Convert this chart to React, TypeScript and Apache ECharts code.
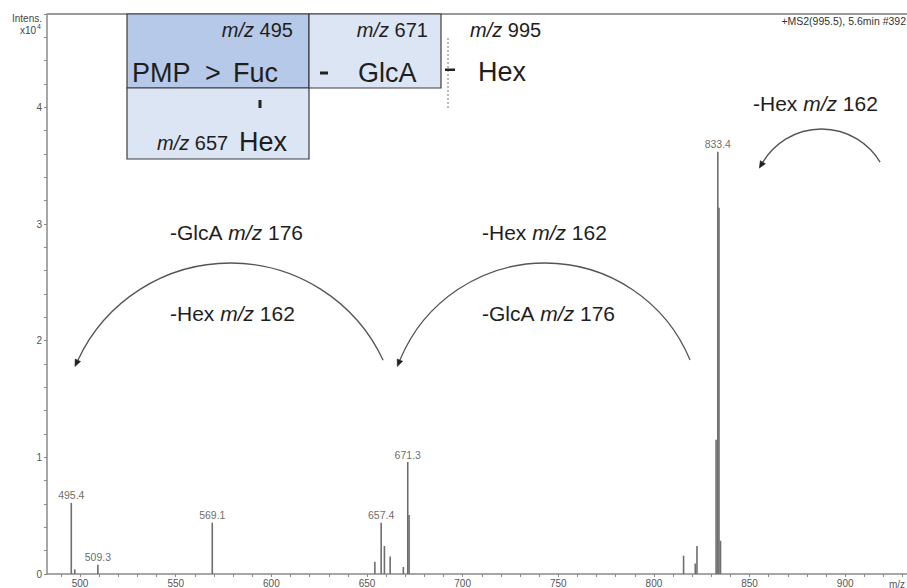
import React, { useEffect, useRef } from "react";
import * as echarts from "echarts";

// ---- data (m/z in Da, intensity in 10^4 counts) ----
const peakMz = [495.4, 497.2, 509.3, 569.1, 654.1, 657.4, 659.1, 662.1, 669.0, 671.3, 672.0, 815.5, 821.6, 822.5, 832.5, 833.4, 834.0, 834.8];
const peakIntensity = [0.61, 0.04, 0.08, 0.44, 0.105, 0.44, 0.24, 0.15, 0.06, 0.96, 0.505, 0.157, 0.09, 0.24, 1.15, 3.62, 3.14, 0.285];
const labeledMz = [495.4, 509.3, 569.1, 657.4, 671.3, 833.4];

const xTickValues = [490, 500, 510, 520, 530, 540, 550, 560, 570, 580, 590, 600, 610, 620, 630, 640, 650, 660, 670, 680, 690, 700, 710, 720, 730, 740, 750, 760, 770, 780, 790, 800, 810, 820, 830, 840, 850, 860, 870, 880, 890, 900, 910, 920, 930];
const xLabelValues = [500, 550, 600, 650, 700, 750, 800, 850, 900];
const yTickValues = [0, 0.2, 0.4, 0.6, 0.8, 1, 1.2, 1.4, 1.6, 1.8, 2, 2.2, 2.4, 2.6, 2.8, 3, 3.2, 3.4, 3.6, 3.8, 4, 4.2, 4.4, 4.6, 4.8];
const yLabelValues = [0, 1, 2, 3, 4];

const FF = '"Liberation Sans", Arial, Helvetica, sans-serif';
const INK = "#1e1e1e";
const AXIS = "#8a8a8a";

function txt(x: number, y: number, text: string, size: number, align: string = "left", extra: any = {}) {
  return {
    type: "text",
    x,
    y,
    z: 20,
    style: {
      text,
      fill: INK,
      fontSize: size,
      fontFamily: FF,
      textAlign: align,
      textVerticalAlign: "middle",
      align,
      verticalAlign: "middle",
      rich: {
        i: { fontStyle: "italic", fontSize: size, fontFamily: FF, fill: INK },
      },
      ...extra,
    },
  };
}

function arcArrow(cx: number, cy: number, r: number, halfDeg: number) {
  const a1 = ((180 + halfDeg) * Math.PI) / 180;
  const a2 = ((360 - halfDeg) * Math.PI) / 180;
  const px = cx + r * Math.cos(a1);
  const py = cy + r * Math.sin(a1);
  const dx = Math.sin(a1);
  const dy = -Math.cos(a1);
  const L = 7;
  const W = 3;
  const tip = [px + dx * L, py + dy * L];
  const b1 = [px - dy * W, py + dx * W];
  const b2 = [px + dy * W, py - dx * W];
  return [
    {
      type: "arc",
      z: 15,
      shape: { cx, cy, r, startAngle: a1, endAngle: a2, clockwise: true },
      style: { stroke: "#555", lineWidth: 1.3, fill: "none" },
    },
    {
      type: "polygon",
      z: 15,
      shape: { points: [tip, b1, b2] },
      style: { fill: "#222", stroke: "#222", lineWidth: 0.5 },
    },
  ];
}

export default function App() {
  const ref = useRef<HTMLDivElement>(null);

  useEffect(() => {
    if (!ref.current) return;
    const chart = echarts.init(ref.current, undefined, { renderer: "svg" });

    const peaks = peakMz.map((m, i) => [m, peakIntensity[i]]);
    const labeled = labeledMz.map((m) => [m, peakIntensity[peakMz.indexOf(m)]]);

    const elements: any[] = [
      // plot top frame
      { type: "line", z: 5, shape: { x1: 47, y1: 14, x2: 907, y2: 14 }, style: { stroke: "#9a9a9a", lineWidth: 2 } },
      // y axis title
      txt(42, 18, "Intens.", 10, "right", { fill: "#444" }),
      txt(36, 30, "x10", 10, "right", { fill: "#444" }),
      txt(37, 26, "4", 7, "left", { fill: "#444" }),
      // header
      txt(906, 21, "+MS2(995.5), 5.6min #392", 10.5, "right", { fill: "#333" }),
      // x axis name
      txt(889, 584, "m/z", 10, "left", { fill: "#555" }),
      // boxes
      { type: "rect", z: 10, shape: { x: 127, y: 14, width: 182, height: 74 }, style: { fill: "#b7c9e8", stroke: "#3c3c3c", lineWidth: 1.2 } },
      { type: "rect", z: 10, shape: { x: 309, y: 14, width: 132, height: 74 }, style: { fill: "#dce5f4", stroke: "#3c3c3c", lineWidth: 1.2 } },
      { type: "rect", z: 10, shape: { x: 127, y: 88, width: 182, height: 71 }, style: { fill: "#dce5f4", stroke: "#3c3c3c", lineWidth: 1.2 } },
      // box texts
      txt(293, 30, "{i|m/z} 495", 20, "right"),
      txt(428, 30, "{i|m/z} 671", 20, "right"),
      txt(470, 30, "{i|m/z} 995", 20, "left"),
      txt(132, 73, "PMP", 27),
      txt(205, 73, ">", 27),
      txt(233, 73, "Fuc", 27, "left", { letterSpacing: 4 }),
      txt(358, 73, "GlcA", 27),
      txt(478, 72, "Hex", 27),
      txt(157, 143, "{i|m/z} 657", 20),
      txt(239, 142, "Hex", 27),
      // linkage marks
      { type: "rect", z: 20, shape: { x: 320, y: 71.5, width: 8, height: 3 }, style: { fill: "#222" } },
      { type: "rect", z: 20, shape: { x: 445, y: 68.5, width: 10, height: 2.5 }, style: { fill: "#222" } },
      { type: "rect", z: 20, shape: { x: 258.5, y: 100, width: 3, height: 8 }, style: { fill: "#222" } },
      { type: "line", z: 19, shape: { x1: 448, y1: 38, x2: 448, y2: 110 }, style: { stroke: "#777", lineWidth: 1, lineDash: [2, 2] } },
      // fragment annotations
      txt(170, 232, "-GlcA {i|m/z} 176", 21),
      txt(170, 313, "-Hex {i|m/z} 162", 21),
      txt(482, 232, "-Hex {i|m/z} 162", 21),
      txt(482, 313, "-GlcA {i|m/z} 176", 21),
      txt(753, 103, "-Hex {i|m/z} 162", 21),
      ...arcArrow(230.5, 431.4, 168.4, 25),
      ...arcArrow(545, 419.9, 156.9, 22.4),
      ...arcArrow(821.5, 197.4, 68.4, 31),
    ];

    chart.setOption({
      animation: false,
      backgroundColor: "#ffffff",
      grid: { left: 47, right: 0, top: 14, bottom: 13, containLabel: false },
      xAxis: {
        type: "value",
        min: 482.7,
        max: 932.3,
        axisLine: { show: true, lineStyle: { color: AXIS, width: 1.5 } },
        axisTick: { show: true, customValues: xTickValues, length: 3, lineStyle: { color: AXIS, width: 1 } },
        axisLabel: { customValues: xLabelValues, fontSize: 10, color: "#555", fontFamily: FF, margin: 4 },
        splitLine: { show: false },
      },
      yAxis: {
        type: "value",
        min: 0,
        max: 4.8,
        axisLine: { show: true, lineStyle: { color: AXIS, width: 1.5 } },
        axisTick: { show: true, customValues: yTickValues, length: 3, lineStyle: { color: AXIS, width: 1 } },
        axisLabel: { customValues: yLabelValues, fontSize: 10, color: "#555", fontFamily: FF, margin: 5 },
        splitLine: { show: false },
      },
      series: [
        {
          type: "custom",
          data: peaks,
          encode: { x: 0, y: 1 },
          renderItem: (params: any, api: any) => {
            const top = api.coord([api.value(0), api.value(1)]);
            const base = api.coord([api.value(0), 0]);
            return {
              type: "line",
              shape: { x1: top[0], y1: top[1], x2: base[0], y2: base[1] },
              style: { stroke: "#6e6e6e", lineWidth: 1.6 },
            };
          },
          z: 3,
        },
        {
          type: "scatter",
          data: labeled,
          symbolSize: 0,
          label: {
            show: true,
            position: "top",
            distance: 2,
            fontSize: 10.5,
            color: "#444",
            fontFamily: FF,
            formatter: (p: any) => p.value[0].toFixed(1),
          },
          z: 4,
        },
      ],
      graphic: { elements },
    });

    return () => chart.dispose();
  }, []);

  return (
    <div
      ref={ref}
      style={{ position: "fixed", left: 0, top: 0, width: 907, height: 588, background: "#fff" }}
    />
  );
}
